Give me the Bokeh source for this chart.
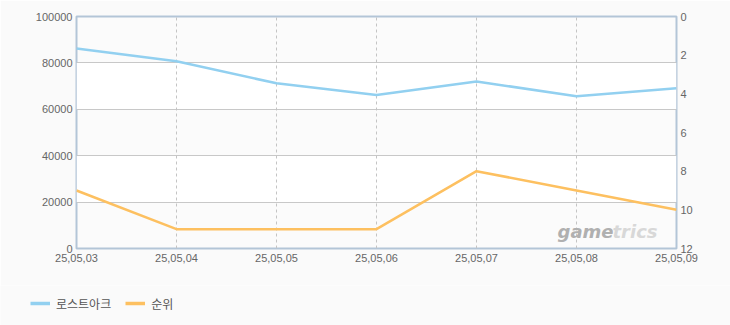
from bokeh.plotting import figure
from bokeh.layouts import column
from bokeh.models import Range1d, LinearAxis, FixedTicker, Legend, LegendItem, Label
from bokeh.embed import file_html
from bokeh.resources import INLINE

dates = ["25,05,03", "25,05,04", "25,05,05", "25,05,06", "25,05,07", "25,05,08", "25,05,09"]
players = [86200, 80700, 71200, 66200, 72000, 65600, 69100]
rank = [9, 11, 11, 11, 8, 9, 10]
left_ticks = [0, 20000, 40000, 60000, 80000, 100000]
right_ticks = [0, 2, 4, 6, 8, 10, 12]
series_names = ["로스트아크", "순위"]
colors = ["#92d0f0", "#fdc060"]

xs = list(range(len(dates)))
BG = "#fafafa"

p = figure(width=730, height=285, output_backend="svg", toolbar_location=None,
           x_range=Range1d(0, len(dates) - 1), y_range=Range1d(0, 100000),
           min_border_left=76, min_border_right=54, min_border_top=16, min_border_bottom=37)
p.extra_y_ranges = {"rank": Range1d(start=12, end=0)}

p.border_fill_color = BG
p.background_fill_color = "#fbfbfb"
p.outline_line_color = "#b3c5d7"
p.outline_line_width = 2

# grids (horizontal bands below the dashed verticals)
p.ygrid.ticker = FixedTicker(ticks=left_ticks)
p.ygrid.grid_line_color = "#c8c8c8"
p.ygrid.grid_line_width = 1
p.ygrid.band_fill_color = "#ffffff"
p.ygrid.band_fill_alpha = 1.0
p.ygrid.level = "image"
p.xgrid.ticker = FixedTicker(ticks=xs)
p.xgrid.grid_line_color = "#c4c4c4"
p.xgrid.grid_line_dash = "3 3"
p.xgrid.grid_line_width = 1

FONT = "Liberation Sans"


def style_axis(ax, standoff):
    ax.axis_line_color = None
    ax.major_tick_line_color = None
    ax.minor_tick_line_color = None
    ax.major_tick_out = 0
    ax.major_tick_in = 0
    ax.minor_tick_out = 0
    ax.minor_tick_in = 0
    ax.major_label_standoff = standoff
    ax.major_label_text_font = FONT
    ax.major_label_text_font_size = "11px"
    ax.major_label_text_color = "#666666"


xa = p.xaxis[0]
xa.ticker = FixedTicker(ticks=xs)
xa.major_label_overrides = {i: d for i, d in enumerate(dates)}
style_axis(xa, 5)

ya = p.yaxis[0]
ya.ticker = FixedTicker(ticks=left_ticks)
ya.major_label_overrides = {t: str(t) for t in left_ticks}
style_axis(ya, 4)

ra = LinearAxis(y_range_name="rank", ticker=FixedTicker(ticks=right_ticks))
style_axis(ra, 4)
p.add_layout(ra, "right")

# watermark
p.add_layout(Label(x=4.81, y=7400, text="game", text_font="DejaVu Sans", text_font_style="bold italic",
                   text_font_size="18px", text_color="#b0b0b0", text_baseline="alphabetic"))
p.add_layout(Label(x=5.36, y=7400, text="trics", text_font="DejaVu Sans", text_font_style="bold italic",
                   text_font_size="18px", text_color="#d8d8d8", text_baseline="alphabetic"))

p.line(xs, players, line_color=colors[0], line_width=2.5)
p.line(xs, rank, line_color=colors[1], line_width=2.5, y_range_name="rank")

# legend strip (its lines lie outside its ranges; only the legend shows)
q = figure(width=730, height=40, output_backend="svg", toolbar_location=None,
           x_range=Range1d(100, 101), y_range=Range1d(100, 101),
           x_axis_location=None, y_axis_location=None,
           min_border_left=0, min_border_right=0, min_border_top=0, min_border_bottom=0)
q.frame_align = False
q.border_fill_color = BG
q.background_fill_color = BG
q.outline_line_color = None
q.grid.visible = False
d1 = q.line(xs, players, line_color=colors[0], line_width=3.5)
d2 = q.line(xs, rank, line_color=colors[1], line_width=3.5)

legend = Legend(items=[LegendItem(label=series_names[0], renderers=[d1]),
                       LegendItem(label=series_names[1], renderers=[d2])],
                location=(30, 12), orientation="horizontal")
legend.padding = 0
legend.margin = 0
legend.spacing = 14
legend.glyph_width = 20
legend.glyph_height = 20
legend.label_standoff = 6
legend.label_text_font = "Noto Sans CJK KR"
legend.label_text_font_size = "12px"
legend.label_text_color = "#555555"
legend.border_line_alpha = 0
legend.background_fill_alpha = 0
q.add_layout(legend, "center")

layout = column(p, q, spacing=0)
open("out.html", "w").write(file_html(layout, INLINE))
